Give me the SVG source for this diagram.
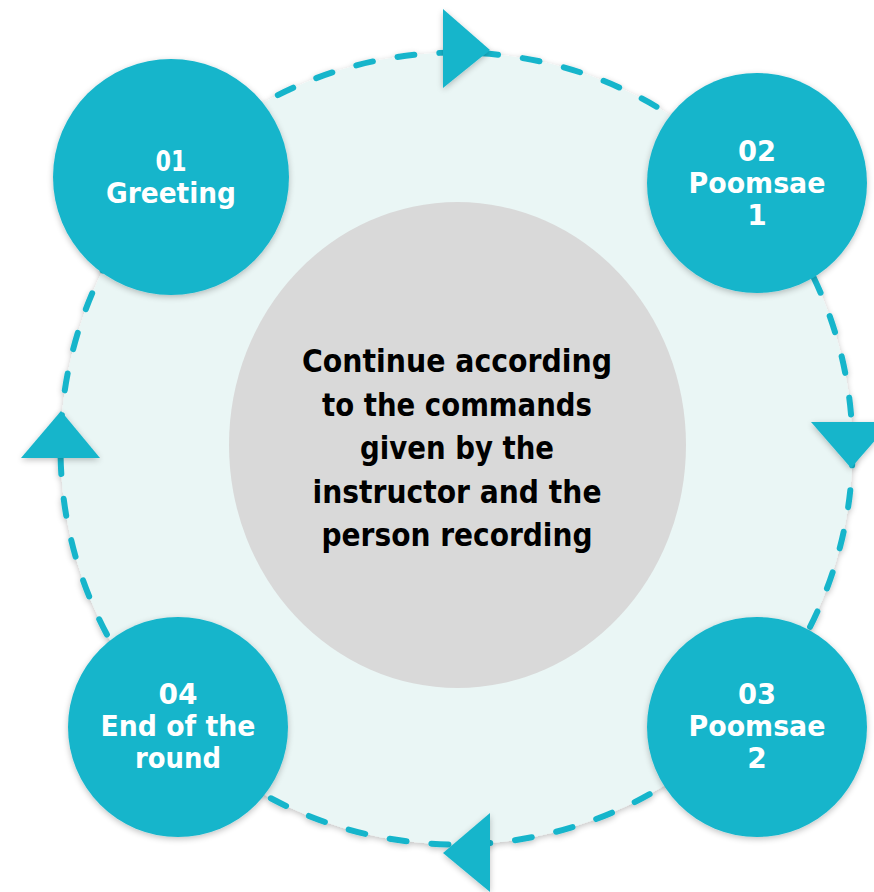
<svg xmlns="http://www.w3.org/2000/svg" width="874" height="892" viewBox="0 0 874 892">
<defs>
<filter id="sh" x="-20%" y="-20%" width="140%" height="140%">
<feGaussianBlur in="SourceAlpha" stdDeviation="3"/>
<feOffset dx="0" dy="2" result="b"/>
<feComponentTransfer><feFuncA type="linear" slope="0.25"/></feComponentTransfer>
<feMerge><feMergeNode/><feMergeNode in="SourceGraphic"/></feMerge>
</filter>
<style>
.node{fill:#19B5CB;filter:url(#sh)}
.nt{font-family:"DejaVu Sans","Liberation Sans",sans-serif;font-weight:bold;font-size:28px;fill:#ffffff;text-anchor:middle}
.ct{font-family:"DejaVu Sans","Liberation Sans",sans-serif;font-weight:bold;font-size:32px;fill:#000000;text-anchor:middle}
.arrow{fill:#19B5CB;filter:url(#sh)}
</style>
</defs>
<rect width="874" height="892" fill="#ffffff"/>
<g id="ring">
<circle cx="456.5" cy="448.5" r="396" fill="#EAF6F5" stroke="#19B5CB" stroke-width="6" stroke-dasharray="17 25" stroke-linecap="round" filter="url(#sh)"/>
</g>
<g id="center">
<ellipse cx="457.5" cy="445" rx="228.5" ry="243" fill="#D9D9D9"/>
<text class="ct" x="457" y="372" textLength="310" lengthAdjust="spacingAndGlyphs">Continue according</text>
<text class="ct" x="457" y="416" textLength="270" lengthAdjust="spacingAndGlyphs">to the commands</text>
<text class="ct" x="457" y="459" textLength="194" lengthAdjust="spacingAndGlyphs">given by the</text>
<text class="ct" x="457" y="503" textLength="289" lengthAdjust="spacingAndGlyphs">instructor and the</text>
<text class="ct" x="457" y="546" textLength="271" lengthAdjust="spacingAndGlyphs">person recording</text>
</g>
<g id="connectors">
<polygon class="arrow" points="443,9 443,88 490,50"/>
<polygon class="arrow" points="811,422 891,422 851,468"/>
<polygon class="arrow" points="490,813 490,892 443,853"/>
<polygon class="arrow" points="21,458 100,458 61,411"/>
</g>
<g id="n01">
<circle class="node" cx="171" cy="177" r="118"/>
<text class="nt" x="171" y="171" textLength="31" lengthAdjust="spacingAndGlyphs">01</text>
<text class="nt" x="171" y="203" textLength="130" lengthAdjust="spacingAndGlyphs">Greeting</text>
</g>
<g id="n02">
<circle class="node" cx="757" cy="183" r="110"/>
<text class="nt" x="757" y="161" textLength="38" lengthAdjust="spacingAndGlyphs">02</text>
<text class="nt" x="757" y="193" textLength="137" lengthAdjust="spacingAndGlyphs">Poomsae</text>
<text class="nt" x="757" y="225">1</text>
</g>
<g id="n03">
<circle class="node" cx="757" cy="727" r="110"/>
<text class="nt" x="757" y="704" textLength="38" lengthAdjust="spacingAndGlyphs">03</text>
<text class="nt" x="757" y="736" textLength="137" lengthAdjust="spacingAndGlyphs">Poomsae</text>
<text class="nt" x="757" y="768">2</text>
</g>
<g id="n04">
<circle class="node" cx="178" cy="727" r="110"/>
<text class="nt" x="178" y="704" textLength="39" lengthAdjust="spacingAndGlyphs">04</text>
<text class="nt" x="178" y="736" textLength="155" lengthAdjust="spacingAndGlyphs">End of the</text>
<text class="nt" x="178" y="768" textLength="86" lengthAdjust="spacingAndGlyphs">round</text>
</g>
</svg>
